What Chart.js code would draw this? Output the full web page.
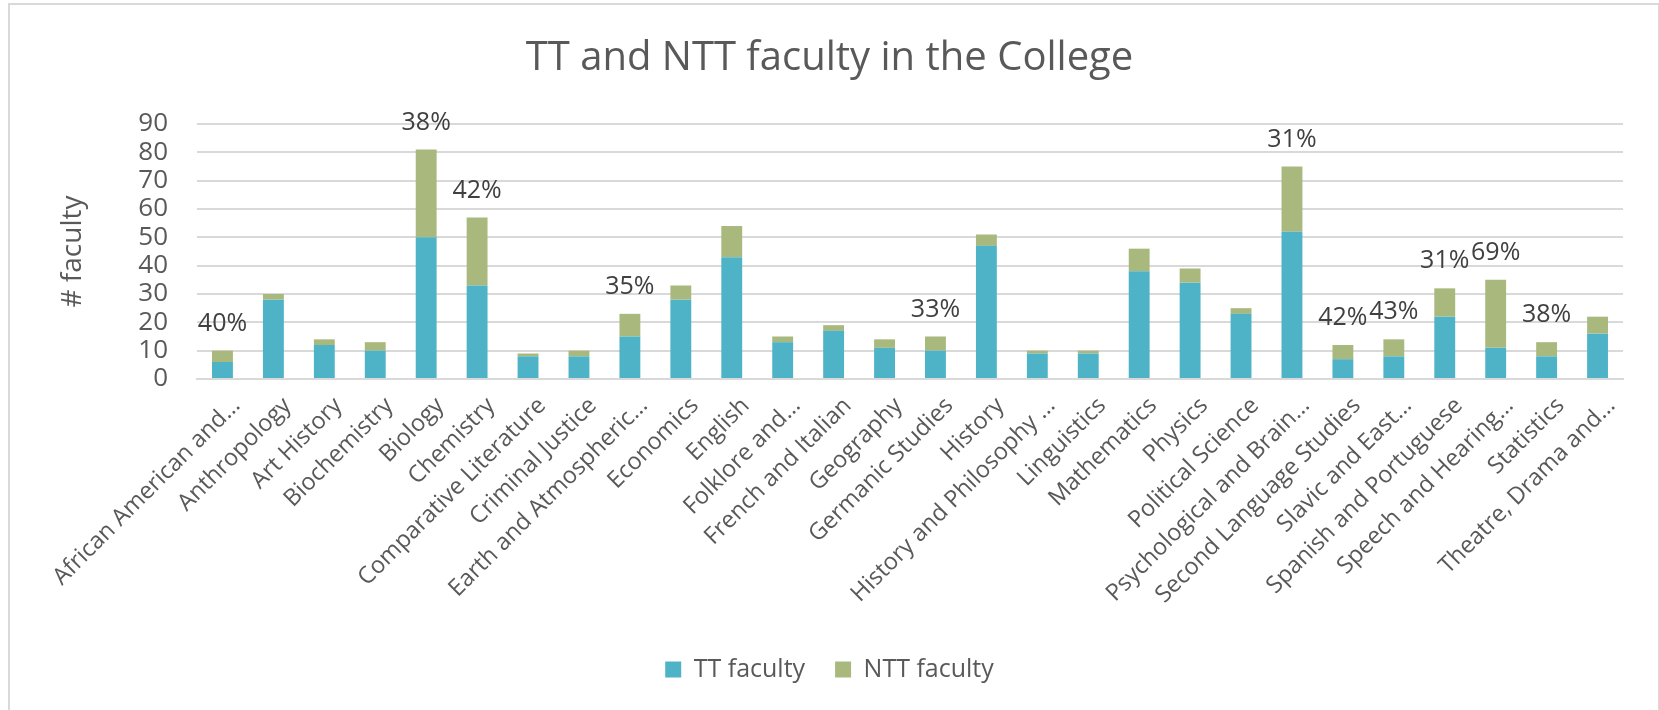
<!DOCTYPE html>
<html lang="en">
<head>
    <meta charset="UTF-8">
    <title>TT and NTT faculty in the College</title>
    <script src="https://cdn.jsdelivr.net/npm/chart.js"></script>
    <style>
        body { margin: 0; overflow: hidden; background: #fff; }
        #frame { position: absolute; left: 8px; top: 3px; width: 1648px; height: 720px;
                 border: 2px solid #d9d9d9; pointer-events: none; }
        #wrap { position: absolute; left: 0; top: 0; width: 1659px; height: 710px; }
    </style>
</head>
<body>
<div id="wrap">
  <canvas id="facultyChart" width="1659" height="710"></canvas>
</div>
<div id="frame"></div>
<script>
// departments (as truncated on the original axis)
const departments = [
    'African American and…', 'Anthropology', 'Art History', 'Biochemistry', 'Biology',
    'Chemistry', 'Comparative Literature', 'Criminal Justice', 'Earth and Atmospheric…',
    'Economics', 'English', 'Folklore and…', 'French and Italian', 'Geography',
    'Germanic Studies', 'History', 'History and Philosophy …', 'Linguistics', 'Mathematics',
    'Physics', 'Political Science', 'Psychological and Brain…', 'Second Language Studies',
    'Slavic and East…', 'Spanish and Portuguese', 'Speech and Hearing…', 'Statistics',
    'Theatre, Drama and…'
];

const ttFaculty  = [6, 28, 12, 10, 50, 33, 8, 8, 15, 28, 43, 13, 17, 11, 10, 47, 9, 9, 38, 34, 23, 52, 7, 8, 22, 11, 8, 16];
const nttFaculty = [4, 2, 2, 3, 31, 24, 1, 2, 8, 5, 11, 2, 2, 3, 5, 4, 1, 1, 8, 5, 2, 23, 5, 6, 10, 24, 5, 6];

// NTT share labels shown above some bars
const nttShare = ['40%', null, null, null, '38%', '42%', null, null, '35%', null, null, null, null, null,
                  '33%', null, null, null, null, null, null, '31%', '42%', '43%', '31%', '69%', '38%', null];

const yTicks = [0, 10, 20, 30, 40, 50, 60, 70, 80, 90];

const FONT = "'Open Sans', 'DejaVu Sans', sans-serif";
const GREY = '#595959';

// draws the percentage text above each stacked bar
const shareLabels = {
    id: 'shareLabels',
    afterDatasetsDraw(chart) {
        const ctx = chart.ctx;
        const meta = chart.getDatasetMeta(1);
        ctx.save();
        ctx.font = '25px ' + FONT;
        ctx.fillStyle = '#404040';
        ctx.textAlign = 'center';
        ctx.textBaseline = 'middle';
        nttShare.forEach((txt, i) => {
            if (!txt) return;
            const bar = meta.data[i];
            ctx.fillText(txt, bar.x, bar.y - 27);
        });
        ctx.restore();
    }
};

const ctx = document.getElementById('facultyChart').getContext('2d');
new Chart(ctx, {
    type: 'bar',
    data: {
        labels: departments,
        datasets: [
            { label: 'TT faculty', data: ttFaculty, backgroundColor: '#4fb3c8' },
            { label: 'NTT faculty', data: nttFaculty, backgroundColor: '#a9b97e' }
        ]
    },
    options: {
        responsive: false,
        animation: false,
        events: [],
        layout: { padding: { left: 36, right: 36, top: 0, bottom: 18 } },
        datasets: { bar: { categoryPercentage: 1, barPercentage: 0.41 } },
        plugins: {
            title: {
                display: true,
                text: 'TT and NTT faculty in the College',
                color: GREY,
                font: { family: FONT, size: 40, weight: 'normal' },
                padding: { top: 35, bottom: 41 }
            },
            legend: {
                position: 'bottom',
                labels: {
                    color: GREY,
                    font: { family: FONT, size: 25 },
                    boxWidth: 16,
                    boxHeight: 16,
                    padding: 30
                }
            },
            tooltip: { enabled: false }
        },
        scales: {
            x: {
                stacked: true,
                grid: { display: false },
                border: { color: '#d9d9d9', width: 2 },
                ticks: {
                    autoSkip: false,
                    minRotation: 45,
                    maxRotation: 45,
                    color: GREY,
                    padding: 5,
                    labelOffset: 14,
                    font: { family: FONT, size: 23.5 }
                },
                afterFit(scale) { scale.height = 248; }
            },
            y: {
                stacked: true,
                min: 0,
                max: 90,
                afterBuildTicks(scale) { scale.ticks = yTicks.map(v => ({ value: v })); },
                grid: { color: '#d9d9d9', lineWidth: 2, drawTicks: false },
                border: { display: false },
                ticks: {
                    autoSkip: false,
                    color: GREY,
                    padding: 29,
                    font: { family: FONT, size: 26 }
                },
                title: {
                    display: true,
                    text: '# faculty',
                    color: GREY,
                    font: { family: FONT, size: 28 },
                    padding: { top: 20, bottom: 0 }
                },
                afterFit(scale) { scale.width = 161; }
            }
        }
    },
    plugins: [shareLabels]
});
</script>
</body>
</html>
